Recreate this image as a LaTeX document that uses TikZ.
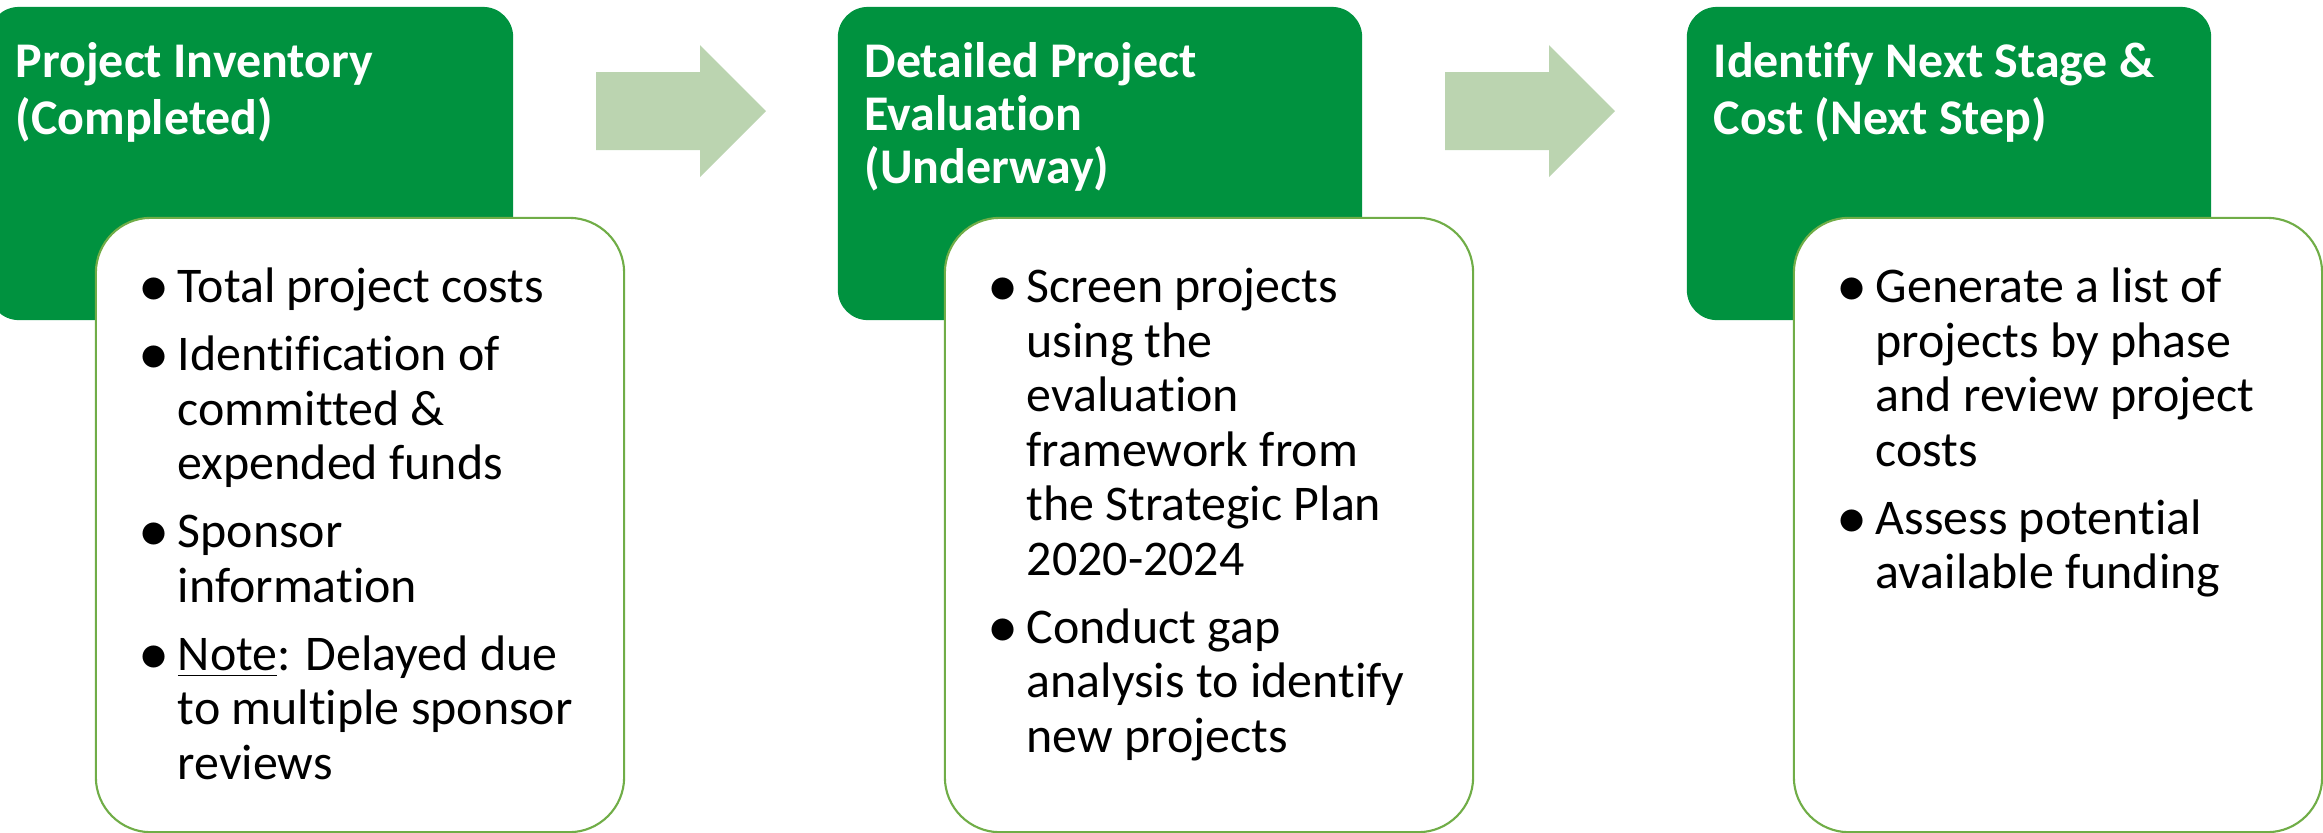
\documentclass[tikz,border=0pt]{standalone}
\usepackage{fontspec}
\setmainfont{Carlito}[Ligatures=NoCommon,RawFeature={-liga;-clig;-dlig}]
\definecolor{stagegreen}{RGB}{0,146,63}
\definecolor{arrowgreen}{RGB}{187,212,176}
\definecolor{bordergreen}{RGB}{112,173,71}
\newcommand\bul{\makebox[9.4pt][l]{\hspace*{2.7pt}\makebox[0pt]{\raisebox{-0.08em}{\scalebox{1.25}{\textbullet}}}}}
\newcommand\ind{\hspace*{9.4pt}}
\begin{document}
\begin{tikzpicture}[x=0.01cm,y=-0.01cm,
  stagebox/.style={fill=stagegreen, rounded corners=0.3cm, inner sep=0, minimum width=5.24cm, minimum height=3.13cm},
  detailbox/.style={fill=white, draw=bordergreen, line width=0.6pt, rounded corners=0.55cm, inner sep=0, minimum width=5.28cm, minimum height=6.14cm},
  headtext/.style={anchor=north west, inner sep=0, align=left, text=white, font=\bfseries\fontsize{14.2}{15}\selectfont},
  bodytext/.style={anchor=north west, inner sep=0, align=left, text=black, font=\fontsize{14.2}{15.5}\selectfont},
  flowarrow/.pic={\fill[arrowgreen] (0,-39) -- (104,-39) -- (104,-66) -- (170,0) -- (104,66) -- (104,39) -- (0,39) -- cycle;}
]
\useasboundingbox (0,0) rectangle (2323,832);

% stage 1
\node[stagebox] (green1) at (251,163.5) {};
\node[detailbox] (detail1) at (360,525) {};
\node[headtext] (head1) at (15,40) {\strut Project Inventory\\(Completed)};
\node[bodytext] (body1) at (144,264) {\strut\bul Total project costs\\[3.8pt]
  \bul Identification of\\ \ind committed \&\\ \ind expended funds\\[3.8pt]
  \bul Sponsor\\ \ind information\\[3.8pt]
  \bul \underline{Note}: Delayed due\\ \ind to multiple sponsor\\ \ind reviews};

% arrow 1
\pic (arrowA) at (596,111) {flowarrow};

% stage 2
\node[stagebox] (green2) at (1100,163.5) {};
\node[detailbox] (detail2) at (1209,525) {};
\node[headtext] (head2) at (864,40) {\strut Detailed Project\\Evaluation\\(Underway)};
\node[bodytext] (body2) at (993,264) {\strut\bul Screen projects\\ \ind using the\\ \ind evaluation\\ \ind framework from\\ \ind the Strategic Plan\\ \ind 2020-2024\\[3.8pt]
  \bul Conduct gap\\ \ind analysis to identify\\ \ind new projects};

% arrow 2
\pic (arrowB) at (1445,111) {flowarrow};

% stage 3
\node[stagebox] (green3) at (1949,163.5) {};
\node[detailbox] (detail3) at (2058,525) {};
\node[headtext] (head3) at (1713,40) {\strut Identify Next Stage \&\\Cost (Next Step)};
\node[bodytext] (body3) at (1842,264) {\strut\bul Generate a list of\\ \ind projects by phase\\ \ind and review project\\ \ind costs\\[3.8pt]
  \bul Assess potential\\ \ind available funding};
\end{tikzpicture}
\end{document}
